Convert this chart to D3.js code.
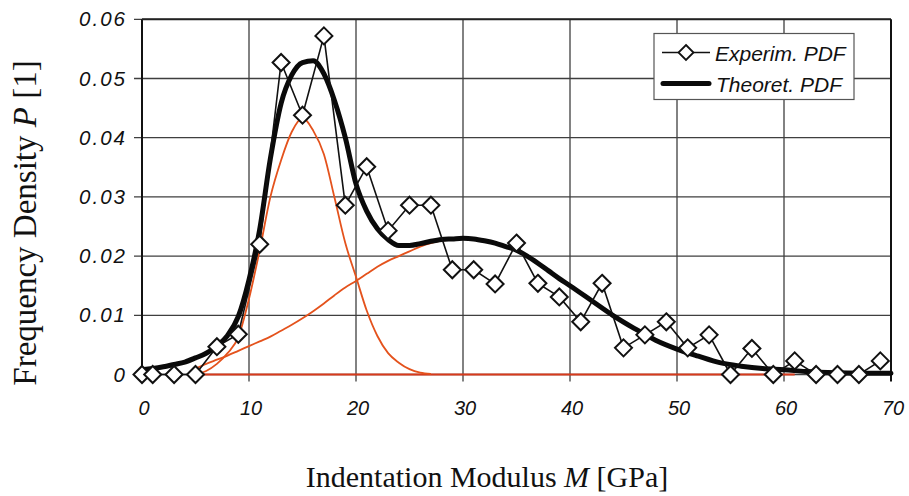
<!DOCTYPE html>
<html>
<head>
<meta charset="utf-8">
<script src="https://cdn.jsdelivr.net/npm/d3@7"></script>
<style>
  html, body { margin: 0; padding: 0; background: #fff; }
  svg { display: block; }
</style>
</head>
<body>
<svg id="chart" width="909" height="496"></svg>
<script>
// ---------------- DATA ----------------
const xTicks = [0, 10, 20, 30, 40, 50, 60, 70];
const yTicks = [0, 0.01, 0.02, 0.03, 0.04, 0.05, 0.06];
const yTickLabels = ["0", "0.01", "0.02", "0.03", "0.04", "0.05", "0.06"];

// Experimental PDF (diamonds)
const expM = [0, 1, 3, 5, 7, 9, 11, 13, 15, 17, 19, 21, 23, 25, 27, 29, 31, 33, 35, 37,
              39, 41, 43, 45, 47, 49, 51, 53, 55, 57, 59, 61, 63, 65, 67, 69];
const expP = [0, 0, 0, 0, 0.0047, 0.0068, 0.0220, 0.0527, 0.0438, 0.0572, 0.0286, 0.0351,
              0.0243, 0.0286, 0.0286, 0.0177, 0.0177, 0.0153, 0.0222, 0.0154, 0.0131, 0.0089,
              0.0154, 0.0045, 0.0067, 0.0089, 0.0045, 0.0067, 0, 0.0044, 0, 0.0023, 0, 0, 0, 0.0023];

// Theoretical PDF (thick black)
const theoM = [0, 1, 2, 3, 4, 5, 6, 7, 8, 9, 10, 11, 12, 13, 14, 15, 16, 17, 18, 19, 20,
               21, 22, 23, 24, 25, 26, 27, 28, 29, 30, 31, 32, 33, 34, 35, 36, 37, 38, 39, 40,
               42, 44, 46, 48, 50, 52, 54, 56, 58, 60, 62, 65, 70];
const theoP = [0.0008, 0.0010, 0.0013, 0.0017, 0.0021, 0.0028, 0.0036, 0.0048, 0.0066, 0.0098, 0.0160,
               0.0245, 0.0365, 0.0458, 0.0506, 0.0527, 0.0530, 0.0508, 0.0462, 0.0400, 0.0322,
               0.0276, 0.0246, 0.0228, 0.0218, 0.0218, 0.0221, 0.0225, 0.0228, 0.0229, 0.0230,
               0.0229, 0.0226, 0.0222, 0.0216, 0.0210, 0.0200, 0.0188, 0.0175, 0.0162, 0.0150,
               0.0125, 0.0100, 0.0078, 0.0058, 0.0043, 0.0031, 0.0020, 0.0014, 0.0010, 0.0008,
               0.0005, 0.0003, 0.0002];

// Component 1 (orange, low-modulus phase)
const comp1M = [5, 6, 7, 8, 9, 10, 11, 12, 13, 14, 15, 16, 17, 18, 19, 20, 21, 22, 23, 24, 25, 26, 27];
const comp1P = [0, 0.0006, 0.0018, 0.0036, 0.0063, 0.0128, 0.0210, 0.0300, 0.0362, 0.0410, 0.0433,
                0.0412, 0.0372, 0.0298, 0.0222, 0.0165, 0.0108, 0.0065, 0.0036, 0.0020, 0.0009, 0.0003, 0.0001];

// Component 2 (orange, high-modulus phase)
const comp2M = [5, 6, 7, 8, 9, 10, 11, 12, 13, 14, 15, 16, 17, 18, 19, 20, 21, 22, 23, 24, 25, 26,
                27, 28, 29, 30, 31, 32, 33, 34, 35, 36, 37, 38, 39, 40, 42, 44, 46, 48, 50, 52,
                54, 56, 58, 60, 61];
const comp2P = [0.0010, 0.0018, 0.0025, 0.0032, 0.0040, 0.0048, 0.0056, 0.0064, 0.0074, 0.0084, 0.0095,
                0.0107, 0.0120, 0.0134, 0.0147, 0.0158, 0.0170, 0.0182, 0.0192, 0.0200, 0.0208, 0.0216,
                0.0222, 0.0226, 0.0228, 0.0229, 0.0228, 0.0225, 0.0221, 0.0215, 0.0209, 0.0199, 0.0187,
                0.0174, 0.0161, 0.0149, 0.0124, 0.0099, 0.0077, 0.0057, 0.0042, 0.0030, 0.0019, 0.0013,
                0.0009, 0.0007, 0.0006];

// Component 3 (zero-level component line)
const comp3M = [5, 61];
const comp3P = [0, 0];

// ---------------- CHART ----------------
const svg = d3.select("#chart");
const x = d3.scaleLinear().domain([0, 70]).range([142, 891]);
const y = d3.scaleLinear().domain([0, 0.06]).range([374.5, 19.3]);

const gridColor = "#3f3f3f";

// vertical gridlines (with ticks below axis)
svg.append("g").selectAll("line").data(xTicks.slice(1, -1)).join("line")
  .attr("x1", d => x(d)).attr("x2", d => x(d))
  .attr("y1", y(0.06)).attr("y2", y(0) + 7)
  .attr("stroke", gridColor).attr("stroke-width", 1.3);

// horizontal gridlines (with ticks left of axis)
svg.append("g").selectAll("line").data(yTicks.slice(1)).join("line")
  .attr("x1", x(0) - 8).attr("x2", x(70))
  .attr("y1", d => y(d)).attr("y2", d => y(d))
  .attr("stroke", gridColor).attr("stroke-width", 1.3);

// bottom axis line
svg.append("line")
  .attr("x1", x(0) - 8).attr("x2", x(70))
  .attr("y1", y(0)).attr("y2", y(0))
  .attr("stroke", gridColor).attr("stroke-width", 1.3);

// frame: left, top, right
svg.append("line").attr("x1", x(0)).attr("x2", x(0)).attr("y1", y(0.06)).attr("y2", y(0) + 7)
  .attr("stroke", "#111").attr("stroke-width", 2);
svg.append("line").attr("x1", x(0)).attr("x2", x(70)).attr("y1", y(0.06)).attr("y2", y(0.06))
  .attr("stroke", "#222").attr("stroke-width", 2);
svg.append("line").attr("x1", x(70)).attr("x2", x(70)).attr("y1", y(0.06)).attr("y2", y(0) + 7)
  .attr("stroke", "#111").attr("stroke-width", 2);

// tick labels
const tickFont = "'Liberation Sans', Arial, sans-serif";
svg.append("g").selectAll("text").data(xTicks).join("text")
  .attr("x", d => x(d) + 2).attr("y", 415)
  .attr("text-anchor", "middle")
  .attr("font-family", tickFont).attr("font-style", "italic")
  .attr("font-size", 20).attr("fill", "#111")
  .text(d => d);

svg.append("g").selectAll("text").data(yTicks).join("text")
  .attr("x", 127).attr("y", d => y(d) + 7)
  .attr("text-anchor", "end")
  .attr("font-family", tickFont).attr("font-style", "italic")
  .attr("font-size", 20.5).attr("letter-spacing", 2).attr("fill", "#111")
  .text((d, i) => yTickLabels[i]);

// axis titles
const serif = "'Liberation Serif', 'Times New Roman', serif";
const yt = svg.append("text")
  .attr("transform", "translate(36,223) rotate(-90)")
  .attr("text-anchor", "middle")
  .attr("font-family", serif).attr("font-size", 33).attr("fill", "#111");
yt.append("tspan").text("Frequency Density ");
yt.append("tspan").attr("font-style", "italic").text("P");
yt.append("tspan").text(" [1]");

const xt = svg.append("text")
  .attr("x", 487).attr("y", 487)
  .attr("text-anchor", "middle")
  .attr("font-family", serif).attr("font-size", 30).attr("fill", "#111");
xt.append("tspan").text("Indentation Modulus ");
xt.append("tspan").attr("font-style", "italic").text("M");
xt.append("tspan").text(" [GPa]");

// curves
const lineSmooth = d3.line().x(d => x(d[0])).y(d => y(d[1])).curve(d3.curveMonotoneX);
const lineStraight = d3.line().x(d => x(d[0])).y(d => y(d[1]));

const orange = "#e4521c";
svg.append("path").datum(d3.zip(comp3M, comp3P)).attr("d", lineStraight)
  .attr("fill", "none").attr("stroke", "#d83a1c").attr("stroke-width", 2);
svg.append("path").datum(d3.zip(comp2M, comp2P)).attr("d", lineSmooth)
  .attr("fill", "none").attr("stroke", orange).attr("stroke-width", 1.8);
svg.append("path").datum(d3.zip(comp1M, comp1P)).attr("d", lineSmooth)
  .attr("fill", "none").attr("stroke", orange).attr("stroke-width", 1.8);

svg.append("path").datum(d3.zip(theoM, theoP)).attr("d", lineSmooth)
  .attr("fill", "none").attr("stroke", "#0a0a0a").attr("stroke-width", 5)
  .attr("stroke-linejoin", "round").attr("stroke-linecap", "round");

svg.append("path").datum(d3.zip(expM, expP)).attr("d", lineStraight)
  .attr("fill", "none").attr("stroke", "#111").attr("stroke-width", 1.6);

const diamond = (cx, cy, r) => `M${cx},${cy - r}L${cx + r},${cy}L${cx},${cy + r}L${cx - r},${cy}Z`;
svg.append("g").selectAll("path").data(d3.zip(expM, expP)).join("path")
  .attr("d", d => diamond(x(d[0]), y(d[1]), 8.5))
  .attr("fill", "#fff").attr("stroke", "#111").attr("stroke-width", 2);

// legend
const lg = svg.append("g");
lg.append("rect").attr("x", 654).attr("y", 33.5).attr("width", 200).attr("height", 66)
  .attr("fill", "#fff").attr("stroke", "#555").attr("stroke-width", 1.2);
lg.append("line").attr("x1", 662).attr("x2", 710).attr("y1", 52.5).attr("y2", 52.5)
  .attr("stroke", "#111").attr("stroke-width", 1.6);
lg.append("path").attr("d", diamond(686, 52.5, 7.5))
  .attr("fill", "#fff").attr("stroke", "#111").attr("stroke-width", 1.8);
lg.append("line").attr("x1", 663).attr("x2", 709).attr("y1", 83.5).attr("y2", 83.5)
  .attr("stroke", "#0a0a0a").attr("stroke-width", 5).attr("stroke-linecap", "round");
lg.append("text").attr("x", 715).attr("y", 61).attr("font-family", tickFont)
  .attr("font-style", "italic").attr("font-size", 21).attr("fill", "#111").text("Experim. PDF");
lg.append("text").attr("x", 716).attr("y", 92).attr("font-family", tickFont)
  .attr("font-style", "italic").attr("font-size", 21).attr("fill", "#111").text("Theoret. PDF");
</script>
</body>
</html>
